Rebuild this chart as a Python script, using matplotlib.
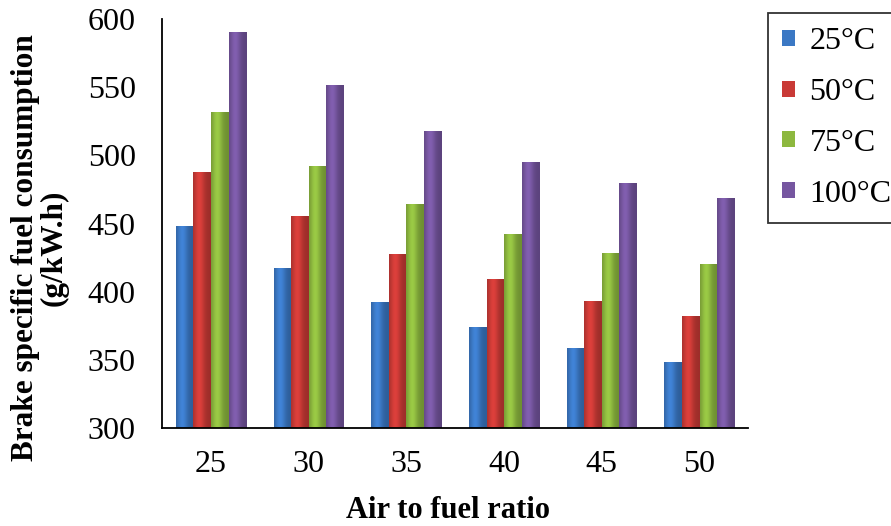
import numpy as np
import matplotlib.pyplot as plt
from matplotlib.colors import to_rgb

plt.rcParams['font.family'] = ['Liberation Serif', 'DejaVu Serif']

# data
ratios = ['25', '30', '35', '40', '45', '50']
labels = ['25°C', '50°C', '75°C', '100°C']
bsfc_25 = [448, 417, 392, 374, 358, 348]
bsfc_50 = [487, 455, 427, 409, 393, 382]
bsfc_75 = [531, 492, 464, 442, 428, 420]
bsfc_100 = [590, 551, 517, 495, 479, 468]
colors = ['#3b78c4', '#c93a36', '#8db83f', '#7656a0']

series = [bsfc_25, bsfc_50, bsfc_75, bsfc_100]

fig = plt.figure(figsize=(8.91, 5.26), dpi=100)
ax = fig.add_axes([0.182, 0.186, 0.658, 0.778])

# horizontal shading profile to mimic the rounded bar look
t = np.linspace(0, 1, 40)
profile = 0.78 + 0.32 * np.exp(-((t - 0.35) / 0.3) ** 2)

x = np.arange(len(ratios))
w = 0.18
for i, (vals, lab, c) in enumerate(zip(series, labels, colors)):
    bars = ax.bar(x + (i - 1.5) * w, np.array(vals) - 300, w, bottom=300,
                  color=c, edgecolor='none', label=lab)
    rgb = np.array(to_rgb(c))
    grad = np.clip(profile[None, :, None] * rgb[None, None, :], 0, 1)
    for b in bars:
        x0, y0 = b.get_x(), b.get_y()
        ax.imshow(grad, extent=[x0, x0 + b.get_width(), y0, y0 + b.get_height()],
                  aspect='auto', interpolation='bilinear', zorder=2)
        b.set_zorder(1)

ax.set_xlim(-0.5, len(ratios) - 0.5)
ax.set_ylim(300, 600)
ax.set_yticks(np.arange(300, 601, 50))
ax.set_xticks(x)
ax.set_xticklabels(ratios)
ax.tick_params(length=0, labelsize=23)
ax.tick_params(axis='y', pad=19)
ax.tick_params(axis='x', pad=16)

ax.spines['top'].set_visible(False)
ax.spines['right'].set_visible(False)
ax.spines['left'].set_linewidth(1.3)
ax.spines['bottom'].set_linewidth(1.3)

fig.text(448 / 891, 1 - 510 / 526, 'Air to fuel ratio', fontsize=22,
         fontweight='bold', ha='center', va='center')
fig.text(40 / 891, 1 - 248 / 526, 'Brake specific fuel consumption\n(g/kW.h)',
         fontsize=22.5, fontweight='bold', rotation=90, ha='center', va='center',
         linespacing=1.0, multialignment='center')

leg = fig.legend(loc='upper left', bbox_to_anchor=(768 / 891, 1 - 13 / 526), fontsize=23,
                 frameon=True, fancybox=False, edgecolor='black',
                 handlelength=0.4, handleheight=0.4, handletextpad=0.45,
                 labelspacing=0.68, borderpad=0.45, borderaxespad=0)
leg.get_frame().set_linewidth(1.3)

plt.savefig('out.png', dpi=100)
